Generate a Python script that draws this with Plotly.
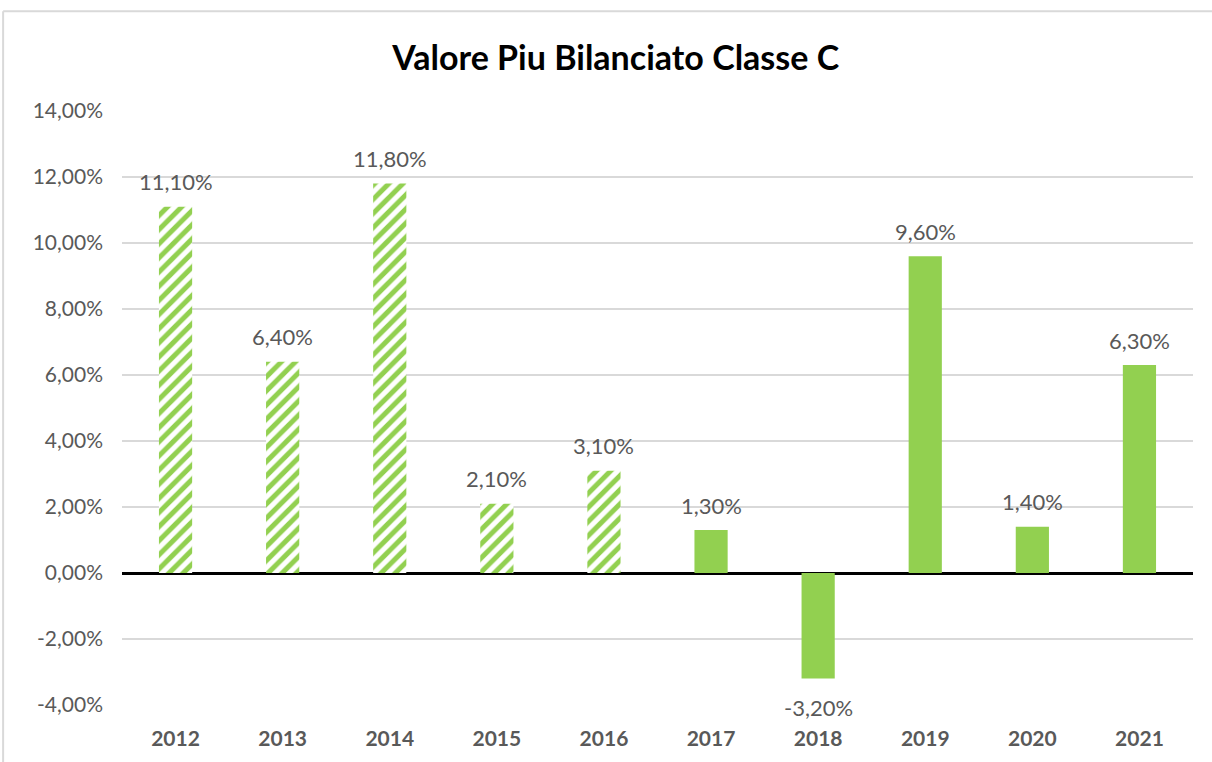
import plotly.graph_objects as go

years = ["2012", "2013", "2014", "2015", "2016", "2017", "2018", "2019", "2020", "2021"]
returns = [11.10, 6.40, 11.80, 2.10, 3.10, 1.30, -3.20, 9.60, 1.40, 6.30]
hatched = [True, True, True, True, True, False, False, False, False, False]
ytick_vals = [-4, -2, 0, 2, 4, 6, 8, 10, 12, 14]
ytick_text = ["-4,00%", "-2,00%", "0,00%", "2,00%", "4,00%", "6,00%", "8,00%", "10,00%", "12,00%", "14,00%"]
title = "Valore Piu Bilanciato Classe C"

GREEN = "#92d050"
GREY = "#595959"
FONT = "Lato, 'Open Sans', sans-serif"

hx = [y for y, h in zip(years, hatched) if h]
hy = [v for v, h in zip(returns, hatched) if h]
sx = [y for y, h in zip(years, hatched) if not h]
sy = [v for v, h in zip(returns, hatched) if not h]

fig = go.Figure()
fig.add_trace(go.Bar(
    x=hx, y=hy,
    marker=dict(color="white", line=dict(width=0),
                pattern=dict(shape="/", fgcolor=GREEN, bgcolor="white", size=10, solidity=0.5,
                             fgopacity=1, fillmode="overlay")),
    hoverinfo="skip",
))
fig.add_trace(go.Bar(
    x=sx, y=sy,
    marker=dict(color=GREEN, line=dict(width=0)),
    hoverinfo="skip",
))

for i, v in enumerate(returns):
    label = f"{v:.2f}%".replace(".", ",")
    fig.add_annotation(x=i, y=v, xref="x", yref="y", text=label, showarrow=False,
                       yanchor="middle", yshift=25 if v >= 0 else -29,
                       font=dict(size=22, color=GREY, family=FONT))

fig.update_layout(
    width=1212, height=762,
    margin=dict(l=122, r=19, t=111, b=55),
    paper_bgcolor="white", plot_bgcolor="white",
    barmode="overlay",
    bargap=0.69,
    showlegend=False,
    title=dict(text="<b>" + title + "</b>", x=0.508, xanchor="center", y=0.924, yanchor="middle",
               font=dict(size=34, color="black", family=FONT)),
    font=dict(family=FONT),
    xaxis=dict(showgrid=False, showline=False, ticks="", type="category",
               categoryorder="array", categoryarray=years,
               range=[-0.5, len(years) - 0.5],
               tickfont=dict(size=21, color=GREY, family=FONT),
               tickprefix="<b>", ticksuffix="</b>",
               ticklabelstandoff=19),
    yaxis=dict(range=[-4, 14], tickvals=ytick_vals, ticktext=ytick_text,
               showgrid=True, gridcolor="#d9d9d9", gridwidth=2,
               zeroline=True, zerolinecolor="black", zerolinewidth=3,
               showline=False, ticks="", tickfont=dict(size=21, color=GREY),
               ticklabelstandoff=18),
    shapes=[
        dict(type="line", xref="paper", yref="paper", x0=-0.111, x1=1.02, y0=1.168, y1=1.168,
             line=dict(color="#d9d9d9", width=2)),
        dict(type="line", xref="paper", yref="paper", x0=-0.111, x1=-0.111, y0=-0.1, y1=1.168,
             line=dict(color="#d9d9d9", width=2)),
    ],
)

fig.write_html("out.html", config={"displayModeBar": False},
               post_script="document.body.style.margin='0';")
